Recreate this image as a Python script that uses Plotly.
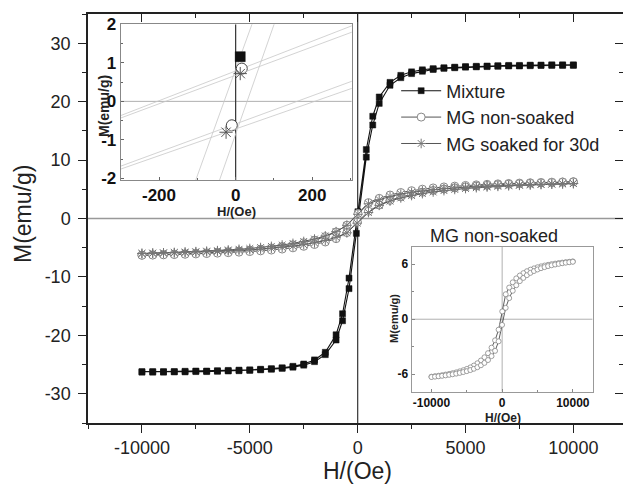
import plotly.graph_objects as go

# ---------------- data ----------------
# Mixture: descending branch (from +H) and ascending branch (from -H)
H_MIX_DOWN = [10000, 9500, 9000, 8500, 8000, 7500, 7000, 6500, 6000, 5500, 5000, 4500, 4000, 3500,
              3000, 2500, 2000, 1500, 1000, 700, 400, 12, -400, -700, -1000, -1500, -2000, -2500,
              -3000, -3500, -4000, -4500, -5000, -5500, -6000, -6500, -7000, -7500, -8000, -8500,
              -9000, -9500, -10000]
M_MIX_DOWN = [26.3, 26.3, 26.3, 26.25, 26.25, 26.2, 26.2, 26.15, 26.1, 26.05, 26.0, 25.9, 25.8, 25.65,
              25.45, 25.1, 24.5, 23.3, 20.8, 17.5, 11.8, 1.16, -10.2, -16.3, -19.9, -22.9, -24.2, -24.9,
              -25.3, -25.55, -25.7, -25.8, -25.9, -25.95, -26.0, -26.05, -26.1, -26.1, -26.15, -26.2,
              -26.2, -26.2, -26.2]
H_MIX_UP = [-10000, -9500, -9000, -8500, -8000, -7500, -7000, -6500, -6000, -5500, -5000, -4500, -4000,
            -3500, -3000, -2500, -2000, -1500, -1000, -700, -400, -60, 400, 700, 1000, 1500, 2000, 2500,
            3000, 3500, 4000, 4500, 5000, 5500, 6000, 6500, 7000, 7500, 8000, 8500, 9000, 9500, 10000]
M_MIX_UP = [-26.3, -26.3, -26.3, -26.25, -26.25, -26.2, -26.2, -26.15, -26.1, -26.05, -26.0, -25.9, -25.8,
            -25.65, -25.45, -25.1, -24.5, -23.3, -20.8, -17.5, -12.0, -2.55, 10.5, 16.0, 19.7, 22.8, 24.1,
            24.8, 25.2, 25.5, 25.7, 25.8, 25.9, 25.95, 26.0, 26.05, 26.1, 26.1, 26.15, 26.2, 26.2, 26.2, 26.2]

# MG non-soaked
H_NS_DOWN = [10000, 9500, 9000, 8500, 8000, 7500, 7000, 6500, 6000, 5500, 5000, 4500, 4000, 3500,
             3000, 2500, 2000, 1500, 1000, 500, 16, -500, -1000, -1500, -2000, -2500, -3000, -3500,
             -4000, -4500, -5000, -5500, -6000, -6500, -7000, -7500, -8000, -8500, -9000, -9500, -10000]
M_NS_DOWN = [6.30, 6.26, 6.22, 6.17, 6.12, 6.06, 6.00, 5.93, 5.85, 5.76, 5.66, 5.54, 5.40, 5.23,
             5.02, 4.76, 4.45, 4.02, 3.45, 2.72, 0.85, -1.14, -2.30, -3.10, -3.70, -4.15, -4.50, -4.80,
             -5.05, -5.25, -5.42, -5.56, -5.68, -5.79, -5.88, -5.96, -6.03, -6.10, -6.16, -6.21, -6.26]
H_NS_UP = [-10000, -9500, -9000, -8500, -8000, -7500, -7000, -6500, -6000, -5500, -5000, -4500, -4000,
           -3500, -3000, -2500, -2000, -1500, -1000, -500, -10, 500, 1000, 1500, 2000, 2500, 3000, 3500,
           4000, 4500, 5000, 5500, 6000, 6500, 7000, 7500, 8000, 8500, 9000, 9500, 10000]
M_NS_UP = [-6.30, -6.26, -6.22, -6.17, -6.12, -6.06, -6.00, -5.93, -5.85, -5.76, -5.66, -5.54, -5.40,
           -5.23, -5.02, -4.76, -4.45, -4.02, -3.45, -2.41, -0.62, 1.24, 2.30, 3.10, 3.70, 4.15, 4.50, 4.80,
           5.05, 5.25, 5.42, 5.56, 5.68, 5.79, 5.88, 5.96, 6.03, 6.10, 6.16, 6.21, 6.26]

# MG soaked for 30d
H_SK_DOWN = [10000, 9500, 9000, 8500, 8000, 7500, 7000, 6500, 6000, 5500, 5000, 4500, 4000, 3500,
             3000, 2500, 2000, 1500, 1000, 500, 12, -500, -1000, -1500, -2000, -2500, -3000, -3500,
             -4000, -4500, -5000, -5500, -6000, -6500, -7000, -7500, -8000, -8500, -9000, -9500, -10000]
M_SK_DOWN = [6.00, 5.96, 5.92, 5.87, 5.82, 5.76, 5.70, 5.63, 5.55, 5.46, 5.36, 5.24, 5.10, 4.93,
             4.73, 4.48, 4.18, 3.77, 3.22, 2.52, 0.72, -1.17, -2.25, -2.98, -3.52, -3.93, -4.26, -4.54,
             -4.77, -4.97, -5.13, -5.27, -5.39, -5.50, -5.59, -5.67, -5.74, -5.81, -5.87, -5.92, -5.97]
H_SK_UP = [-10000, -9500, -9000, -8500, -8000, -7500, -7000, -6500, -6000, -5500, -5000, -4500, -4000,
           -3500, -3000, -2500, -2000, -1500, -1000, -500, -25, 500, 1000, 1500, 2000, 2500, 3000, 3500,
           4000, 4500, 5000, 5500, 6000, 6500, 7000, 7500, 8000, 8500, 9000, 9500, 10000]
M_SK_UP = [-6.00, -5.96, -5.92, -5.87, -5.82, -5.76, -5.70, -5.63, -5.55, -5.46, -5.36, -5.24, -5.10,
           -4.93, -4.73, -4.48, -4.18, -3.77, -3.22, -2.45, -0.80, 1.02, 2.25, 2.98, 3.52, 3.93, 4.26, 4.54,
           4.77, 4.97, 5.13, 5.27, 5.39, 5.50, 5.59, 5.67, 5.74, 5.81, 5.87, 5.92, 5.97]

SERIES_NAMES = ["Mixture", "MG non-soaked", "MG soaked for 30d"]

MAIN_X_TICKS = [-10000, -5000, 0, 5000, 10000]
MAIN_X_LABELS = ["-10000", "-5000", "0", "5000", "10000"]
MAIN_Y_TICKS = [-30, -20, -10, 0, 10, 20, 30]
MAIN_Y_LABELS = ["-30", "-20", "-10", "0", "10", "20", "30"]
INSET1_X_TICKS = [-200, 0, 200]
INSET1_X_LABELS = ["-200", "0", "200"]
INSET1_Y_TICKS = [-2, -1, 0, 1, 2]
INSET1_Y_LABELS = ["-2", "-1", "0", "1", "2"]
INSET2_X_TICKS = [-10000, 0, 10000]
INSET2_X_LABELS = ["-10000", "0", "10000"]
INSET2_Y_TICKS = [-6, 0, 6]
INSET2_Y_LABELS = ["-6", "0", "6"]

FONT = "Liberation Sans, Arial, Helvetica, sans-serif"


def bold(labels):
    return [f"<b>{s}</b>" for s in labels]


# ---------------- figure ----------------
fig = go.Figure()

loops = [
    (H_MIX_DOWN + H_MIX_UP, M_MIX_DOWN + M_MIX_UP),
    (H_NS_DOWN + H_NS_UP, M_NS_DOWN + M_NS_UP),
    (H_SK_DOWN + H_SK_UP, M_SK_DOWN + M_SK_UP),
]

main_styles = [
    dict(line=dict(color="#111111", width=1.1),
         marker=dict(symbol="square", size=6, color="#111111", line=dict(color="#111111", width=0.5))),
    dict(line=dict(color="#555555", width=1.0),
         marker=dict(symbol="circle", size=8, color="white", line=dict(color="#888888", width=1))),
    dict(line=dict(color="#555555", width=1.0),
         marker=dict(symbol="asterisk-open", size=8, color="#777777", line=dict(color="#777777", width=1))),
]
for (hx, my), name, st in zip(loops, SERIES_NAMES, main_styles):
    fig.add_trace(go.Scatter(x=hx, y=my, mode="lines+markers", name=name,
                             xaxis="x", yaxis="y", **st))

# inset 1: zoom around origin
inset1_styles = [
    dict(marker=dict(symbol="square", size=10, color="#111111", line=dict(color="#111111", width=0.5))),
    dict(marker=dict(symbol="circle", size=11, color="white", line=dict(color="#444444", width=1))),
    dict(marker=dict(symbol="asterisk-open", size=11, color="#555555", line=dict(color="#555555", width=1))),
]
for (hx, my), st in zip(loops, inset1_styles):
    fig.add_trace(go.Scatter(x=hx, y=my, mode="lines+markers", showlegend=False,
                             line=dict(color="#c8c8c8", width=0.8),
                             xaxis="x3", yaxis="y3", **st))

# inset 2: MG non-soaked loop
fig.add_trace(go.Scatter(x=loops[1][0], y=loops[1][1], mode="lines+markers", showlegend=False,
                         line=dict(color="#333333", width=0.8),
                         marker=dict(symbol="circle", size=5, color="white",
                                     line=dict(color="#888888", width=0.8)),
                         xaxis="x4", yaxis="y4"))

# dummy traces for top / right mirror axes
fig.add_trace(go.Scatter(x=[0], y=[0], xaxis="x2", yaxis="y", showlegend=False,
                         mode="markers", marker=dict(opacity=0), hoverinfo="skip"))
fig.add_trace(go.Scatter(x=[0], y=[0], xaxis="x", yaxis="y2", showlegend=False,
                         mode="markers", marker=dict(opacity=0), hoverinfo="skip"))

XR = [-12500, 12300]
YR = [-35, 35]
tickfont_main = dict(family=FONT, size=18, color="#222222")

fig.update_layout(
    width=623, height=490,
    margin=dict(l=88, r=0, t=14, b=67),
    paper_bgcolor="white", plot_bgcolor="white",
    font=dict(family=FONT, color="#222222"),
    showlegend=True,
    legend=dict(x=0.576, y=0.857, xanchor="left", yanchor="top",
                bgcolor="rgba(0,0,0,0)", font=dict(family=FONT, size=18, color="#222222"),
                itemwidth=40, tracegroupgap=0),
    xaxis=dict(domain=[0, 1], range=XR, tickvals=MAIN_X_TICKS, ticktext=MAIN_X_LABELS,
               ticks="outside", ticklen=8,
               tickwidth=1.2, tickcolor="#222", showline=True, linecolor="#222", linewidth=1.5,
               showgrid=False, zeroline=False, tickfont=tickfont_main, ticklabelstandoff=0,
               minor=dict(ticks="outside", ticklen=4, dtick=2500, tick0=0, tickcolor="#222", showgrid=False),
               anchor="y"),
    xaxis2=dict(overlaying="x", side="top", range=XR, tickvals=MAIN_X_TICKS, ticks="inside", ticklen=8,
                tickwidth=1.2, tickcolor="#222", showline=True, linecolor="#222", linewidth=1.5,
                showgrid=False, zeroline=False, showticklabels=False,
                minor=dict(ticks="inside", ticklen=4, dtick=2500, tick0=0, tickcolor="#222", showgrid=False),
                anchor="y"),
    yaxis=dict(domain=[0, 1], range=YR, tickvals=MAIN_Y_TICKS, ticktext=MAIN_Y_LABELS,
               ticks="outside", ticklen=8,
               tickwidth=1.2, tickcolor="#222", showline=True, linecolor="#222", linewidth=1.5,
               showgrid=False, zeroline=False, tickfont=tickfont_main, ticklabelstandoff=4,
               minor=dict(ticks="outside", ticklen=4, dtick=5, tick0=0, tickcolor="#222", showgrid=False),
               anchor="x"),
    yaxis2=dict(overlaying="y", side="right", range=YR, tickvals=MAIN_Y_TICKS, ticks="inside", ticklen=8,
                tickwidth=1.2, tickcolor="#222", showline=False, showgrid=False, zeroline=False,
                showticklabels=False,
                minor=dict(ticks="inside", ticklen=4, dtick=5, tick0=0, tickcolor="#222", showgrid=False),
                anchor="x"),
    # inset 1
    xaxis3=dict(domain=[0.0611, 0.4930], range=[-300, 303], tickvals=INSET1_X_TICKS,
                ticktext=bold(INSET1_X_LABELS), ticks="inside",
                ticklen=3, tickcolor="#666", showline=True, mirror=True, linecolor="#888", linewidth=1,
                showgrid=False, zeroline=False, anchor="y3",
                tickfont=dict(family=FONT, size=17, color="#111"), ticklabelstandoff=0,
                minor=dict(ticks="inside", ticklen=2, dtick=100, tick0=0, tickcolor="#666", showgrid=False)),
    yaxis3=dict(domain=[0.594, 0.975], range=[-2.04, 2.0], tickvals=INSET1_Y_TICKS,
                ticktext=bold(INSET1_Y_LABELS), ticks="inside",
                ticklen=3, tickcolor="#666", showline=True, mirror=True, linecolor="#888", linewidth=1,
                showgrid=False, zeroline=False, anchor="x3",
                tickfont=dict(family=FONT, size=17, color="#111"), ticklabelstandoff=0,
                minor=dict(ticks="inside", ticklen=2, dtick=0.5, tick0=0, tickcolor="#666", showgrid=False)),
    # inset 2
    xaxis4=dict(domain=[0.605, 0.9432], range=[-12800, 12800], tickvals=INSET2_X_TICKS,
                ticktext=bold(INSET2_X_LABELS), ticks="inside",
                ticklen=3, tickcolor="#888", showline=True, mirror=True, linecolor="#999", linewidth=1,
                showgrid=False, zeroline=False, anchor="y4",
                tickfont=dict(family=FONT, size=12, color="#111"), ticklabelstandoff=0,
                minor=dict(ticks="inside", ticklen=2, dtick=5000, tick0=0, tickcolor="#888", showgrid=False)),
    yaxis4=dict(domain=[0.0765, 0.431], range=[-7.9, 7.9], tickvals=INSET2_Y_TICKS,
                ticktext=bold(INSET2_Y_LABELS), ticks="inside",
                ticklen=3, tickcolor="#888", showline=True, mirror=True, linecolor="#999", linewidth=1,
                showgrid=False, zeroline=False, anchor="x4",
                tickfont=dict(family=FONT, size=12, color="#111"), ticklabelstandoff=0,
                minor=dict(ticks="inside", ticklen=2, dtick=3, tick0=0, tickcolor="#888", showgrid=False)),
)

# zero lines
shapes = [
    dict(type="line", xref="x", yref="y", x0=XR[0], x1=XR[1], y0=0, y1=0,
         line=dict(color="#999999", width=1.6), layer="below"),
    dict(type="line", xref="x", yref="y", x0=0, x1=0, y0=YR[0], y1=YR[1],
         line=dict(color="#444444", width=1.3), layer="below"),
    dict(type="line", xref="x3", yref="y3", x0=-300, x1=303, y0=0, y1=0,
         line=dict(color="#b0b0b0", width=1), layer="below"),
    dict(type="line", xref="x3", yref="y3", x0=0, x1=0, y0=-2.04, y1=2.0,
         line=dict(color="#333333", width=1.2), layer="below"),
    dict(type="line", xref="x4", yref="y4", x0=-12800, x1=12800, y0=0, y1=0,
         line=dict(color="#b0b0b0", width=1), layer="below"),
    dict(type="line", xref="x4", yref="y4", x0=0, x1=0, y0=-7.9, y1=7.9,
         line=dict(color="#b0b0b0", width=1), layer="below"),
]
fig.update_layout(shapes=shapes)


def px_ann(text, x, y, size, bold_=False, angle=0):
    t = f"<b>{text}</b>" if bold_ else text
    return dict(text=t, xref="paper", yref="paper",
                x=(x - 88) / 535, y=(423 - y) / 409, xanchor="center", yanchor="middle",
                showarrow=False, textangle=angle,
                font=dict(family=FONT, size=size, color="#222222"))


fig.update_layout(annotations=[
    px_ann("H/(Oe)", 358, 471, 23),
    px_ann("M(emu/g)", 23, 214, 23, angle=-90),
    px_ann("H/(Oe)", 236, 211, 13, bold_=True),
    px_ann("M(emu/g)", 104, 106, 14, bold_=True, angle=-90),
    px_ann("MG non-soaked", 494, 236, 18),
    px_ann("H/(Oe)", 503, 418, 12, bold_=True),
    px_ann("M(emu/g)", 394, 319, 11, bold_=True, angle=-90),
])

fig.write_html("out.html")
